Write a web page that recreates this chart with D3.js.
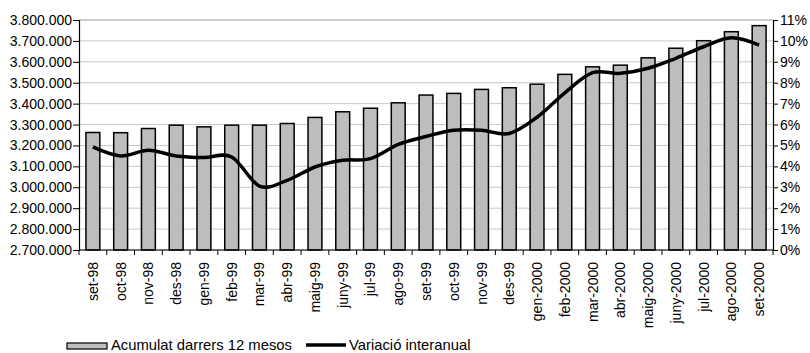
<!DOCTYPE html>
<html>
<head>
<meta charset="utf-8">
<script src="https://cdn.jsdelivr.net/npm/d3@7"></script>
<style>
  html, body { margin: 0; padding: 0; background: #fff; }
  svg { display: block; }
  svg text { fill: #000; }
</style>
</head>
<body>
<svg id="chart" width="810" height="353"></svg>
<script>
// Months shown on the category axis
const months = ["set-98","oct-98","nov-98","des-98","gen-99","feb-99","mar-99","abr-99",
  "maig-99","juny-99","jul-99","ago-99","set-99","oct-99","nov-99","des-99",
  "gen-2000","feb-2000","mar-2000","abr-2000","maig-2000","juny-2000","jul-2000",
  "ago-2000","set-2000"];

// Accumulated total over the last 12 months (left axis)
const acumulat = [3262000, 3261000, 3281000, 3297000, 3289000, 3297000, 3297000, 3305000,
  3334000, 3361000, 3378000, 3404000, 3441000, 3449000, 3468000, 3476000,
  3493000, 3540000, 3576000, 3584000, 3619000, 3665000, 3701000, 3744000, 3773000];

// Year-on-year change, in percent (right axis)
const variacio = [4.93, 4.50, 4.77, 4.50, 4.42, 4.45, 3.06, 3.33,
  3.97, 4.29, 4.37, 5.05, 5.43, 5.73, 5.73, 5.57,
  6.35, 7.52, 8.48, 8.45, 8.69, 9.17, 9.72, 10.15, 9.80];

// Tick values of both value axes
const leftTicks = d3.range(2700000, 3800001, 100000);
const rightTicks = d3.range(0, 12, 1);

const legendLabels = ["Acumulat darrers 12 mesos", "Variació interanual"];

const FONT = "Arial, 'Liberation Sans', Helvetica, sans-serif";

const svg = d3.select("#chart");
const plot = { left: 79, right: 773, top: 20, bottom: 250 };

const x = d3.scaleBand().domain(months).range([plot.left, plot.right]).paddingInner(0.5).paddingOuter(0.25);
const xb = d3.scaleBand().domain(months).range([plot.left, plot.right]);
const yL = d3.scaleLinear().domain([2700000, 3800000]).range([plot.bottom, plot.top]);
const yR = d3.scaleLinear().domain([0, 11]).range([plot.bottom, plot.top]);

const fmtThousands = d3.formatLocale({ decimal: ",", thousands: ".", grouping: [3], currency: ["", ""] }).format(",d");

// Horizontal grid lines
svg.append("g")
  .selectAll("line")
  .data(leftTicks)
  .join("line")
  .attr("x1", plot.left).attr("x2", plot.right)
  .attr("y1", d => yL(d)).attr("y2", d => yL(d))
  .attr("stroke", d => d === 3800000 ? "#9a9a9a" : "#c8c8c8")
  .attr("stroke-width", 1);

// Bars
svg.append("g")
  .selectAll("rect")
  .data(months)
  .join("rect")
  .attr("x", d => x(d))
  .attr("width", x.bandwidth())
  .attr("y", (d, i) => yL(acumulat[i]))
  .attr("height", (d, i) => yL(2700000) - yL(acumulat[i]))
  .attr("fill", "#bdbdbd")
  .attr("stroke", "#000")
  .attr("stroke-width", 1.5);

// Smoothed line of the yearly change
const line = d3.line()
  .x((d, i) => xb(months[i]) + xb.bandwidth() / 2)
  .y(d => yR(d))
  .curve(d3.curveCardinal.tension(0));

svg.append("path")
  .datum(variacio)
  .attr("d", line)
  .attr("fill", "none")
  .attr("stroke", "#000")
  .attr("stroke-width", 3.5)
  .attr("stroke-linejoin", "round");

// Left axis
const axL = svg.append("g")
  .attr("transform", `translate(${plot.left},0)`)
  .call(d3.axisLeft(yL).tickValues(leftTicks).tickFormat(fmtThousands).tickSize(6).tickPadding(1))
  .attr("font-family", FONT).attr("font-size", 14);
axL.select(".domain").attr("stroke", "#000").attr("stroke-width", 1.2);
axL.selectAll(".tick line").attr("stroke", "#000");
axL.selectAll("text").attr("fill", "#000");

// Right axis
const axR = svg.append("g")
  .attr("transform", `translate(${plot.right},0)`)
  .call(d3.axisRight(yR).tickValues(rightTicks).tickFormat(d => d + "%").tickSize(5).tickPadding(2))
  .attr("font-family", FONT).attr("font-size", 14);
axR.select(".domain").attr("stroke", "#000").attr("stroke-width", 1.2);
axR.selectAll(".tick line").attr("stroke", "#000");
axR.selectAll("text").attr("fill", "#000");

// Category axis: ticks between categories
const axB = svg.append("g")
  .attr("transform", `translate(0,${plot.bottom})`)
  .attr("font-family", FONT).attr("font-size", 14);
axB.append("line")
  .attr("x1", plot.left).attr("x2", plot.right)
  .attr("stroke", "#000").attr("stroke-width", 1.2);
axB.selectAll("line.tk")
  .data(d3.range(months.length + 1))
  .join("line")
  .attr("class", "tk")
  .attr("x1", i => plot.left + i * xb.bandwidth())
  .attr("x2", i => plot.left + i * xb.bandwidth())
  .attr("y1", 0).attr("y2", 5)
  .attr("stroke", "#000");
axB.selectAll("text")
  .data(months)
  .join("text")
  .attr("transform", d => `translate(${xb(d) + xb.bandwidth() / 2 + 5},12) rotate(-90)`)
  .attr("text-anchor", "end")
  .text(d => d);

// Legend
const lg = svg.append("g").attr("font-family", FONT).attr("font-size", 14.8);
lg.append("rect")
  .attr("x", 67).attr("y", 343).attr("width", 40).attr("height", 6)
  .attr("fill", "#bdbdbd").attr("stroke", "#000").attr("stroke-width", 1.2);
lg.append("text")
  .attr("x", 111).attr("y", 349.5)
  .text(legendLabels[0]);
lg.append("line")
  .attr("x1", 306).attr("x2", 346)
  .attr("y1", 345).attr("y2", 345)
  .attr("stroke", "#000").attr("stroke-width", 3.5);
lg.append("text")
  .attr("x", 349).attr("y", 349.5)
  .text(legendLabels[1]);
</script>
</body>
</html>
